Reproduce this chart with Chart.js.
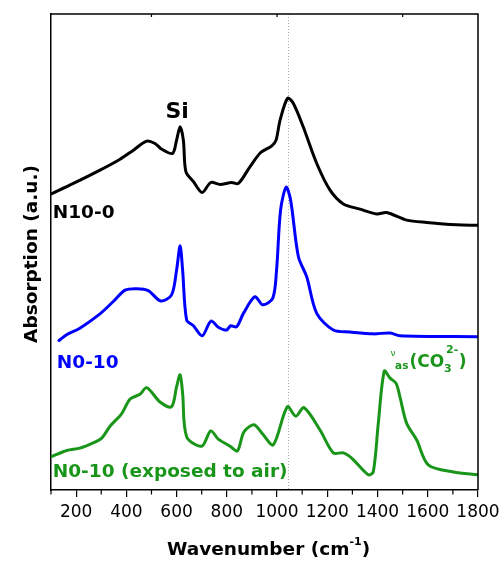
<!DOCTYPE html>
<html>
<head>
<meta charset="utf-8">
<script src="https://cdn.jsdelivr.net/npm/chart.js@4/dist/chart.umd.min.js"></script>
<style>
  html, body { margin: 0; padding: 0; background: #ffffff; }
  #c { display: block; }
</style>
</head>
<body>
<canvas id="c" width="501" height="561"></canvas>
<script>
// ---- data (wavenumber in cm^-1, absorption in arbitrary offset units) ----
const n100Wave = [101,189,295,375,428,481,514,541,584,600,614,627,637,667,702,736,773,819,846,892,935,979,996,1012,1042,1065,1104,1158,1211,1264,1330,1397,1436,1516,1596,1715,1799];
const n100Abs  = [62.2,64.4,67.2,69.5,71.4,73.3,72.8,71.6,70.7,73.5,76.3,73.5,66.9,64.8,62.5,64.6,64.2,64.6,64.4,67.9,70.9,72.3,73.5,77.7,82.3,81.2,76.3,68.6,63.0,60.1,59.0,58.0,58.3,56.7,56.2,55.7,55.6];

const n010Wave = [132,162,215,295,348,395,441,487,537,580,600,614,624,640,667,702,737,766,799,815,839,866,912,943,983,998,1014,1036,1054,1085,1118,1158,1224,1290,1383,1450,1489,1799];
const n010Abs  = [31.4,32.6,34.0,37.0,39.6,42.0,42.3,41.9,39.7,41.0,46.2,51.3,46.2,35.7,34.5,32.4,35.5,34.2,33.6,34.5,34.3,37.1,40.6,38.9,40.3,46.2,58.8,63.6,60.9,49.0,44.8,37.1,33.6,33.2,32.8,33.0,32.4,32.2];

const airWave = [101,163,215,268,302,335,381,415,454,481,534,580,600,614,624,640,700,736,766,813,842,868,908,945,985,1041,1075,1107,1171,1224,1264,1297,1363,1383,1403,1427,1450,1474,1489,1516,1556,1602,1702,1799];
const airAbs  = [7.0,8.3,8.8,9.9,10.9,13.4,16.0,19.1,20.1,21.5,18.5,17.5,21.7,24.2,20.3,11.2,9.2,12.4,10.7,9.2,8.2,12.2,13.7,11.6,9.5,17.5,15.5,17.3,12.6,7.8,7.8,6.7,3.2,3.8,14.0,25.0,23.5,22.4,19.6,14.0,10.5,5.3,3.8,3.2];

const seriesNames = ['N10-0', 'N0-10', 'N0-10 (exposed to air)'];
const xTickLabels = [200,400,600,800,1000,1200,1400,1600,1800];
const xMinorTicks = [100,300,500,700,900,1100,1300,1500,1700];
const xTopTicks   = [500,1000,1500];
const refLine = 1042;

const BLACK = '#000000', BLUE = '#0000ff', GREEN = 'rgb(25,150,25)';
const FONT = '"DejaVu Sans", "Liberation Sans", Arial, sans-serif';

function pts(xs, ys) { return xs.map((v, i) => ({ x: v, y: ys[i] })); }

const deco = {
  id: 'deco',
  beforeDatasetsDraw(chart) {
    const { ctx, chartArea: a, scales: { x } } = chart;
    ctx.save();
    ctx.strokeStyle = '#a8a8a8';
    ctx.lineWidth = 1;
    ctx.setLineDash([1, 2]);
    const px = Math.round(x.getPixelForValue(refLine)) + 0.5;
    ctx.beginPath(); ctx.moveTo(px, a.top); ctx.lineTo(px, a.bottom); ctx.stroke();
    ctx.restore();
  },
  afterDraw(chart) {
    const { ctx, chartArea: a, scales: { x, y } } = chart;
    ctx.save();
    // frame top and right
    ctx.strokeStyle = '#000'; ctx.lineWidth = 1.5;
    ctx.beginPath();
    ctx.moveTo(a.left, a.top); ctx.lineTo(a.right, a.top); ctx.lineTo(a.right, a.bottom);
    ctx.stroke();
    // minor bottom ticks
    ctx.lineWidth = 1.2;
    ctx.beginPath();
    xMinorTicks.forEach(v => {
      const px = x.getPixelForValue(v);
      ctx.moveTo(px, a.bottom); ctx.lineTo(px, a.bottom + 4.5);
    });
    // small inward top ticks
    xTopTicks.forEach(v => {
      const px = x.getPixelForValue(v);
      ctx.moveTo(px, a.top); ctx.lineTo(px, a.top + 3);
    });
    ctx.stroke();

    function txt(s, px, py, size, color, align, weight) {
      ctx.font = (weight || 'bold') + ' ' + size + 'px ' + FONT;
      ctx.fillStyle = color;
      ctx.textAlign = align || 'left';
      ctx.textBaseline = 'alphabetic';
      ctx.fillText(s, px, py);
      return ctx.measureText(s).width;
    }
    // annotations
    txt('Si', x.getPixelForValue(602), y.getPixelForValue(78.2), 22, BLACK, 'center');
    txt(seriesNames[0], x.getPixelForValue(107), y.getPixelForValue(57.1), 18.5, BLACK);
    txt(seriesNames[1], x.getPixelForValue(123), y.getPixelForValue(25.6), 18.5, BLUE);
    txt(seriesNames[2], x.getPixelForValue(107), y.getPixelForValue(2.8), 18.5, GREEN);

    // nu_as(CO3 2-)
    let cx = x.getPixelForValue(1452), cy = y.getPixelForValue(25.8);
    txt('\u03BD', cx, cy - 11, 9, GREEN, 'left', 'normal');
    cx += 4.5;
    cx += txt('as', cx, cy + 2, 10.5, GREEN);
    cx += 1;
    cx += txt('(CO', cx, cy, 17, GREEN);
    txt('3', cx, cy + 5, 11, GREEN);
    const w2 = txt('2-', cx + 2, cy - 14, 11, GREEN);
    cx += 2 + w2 + 0.5;
    txt(')', cx, cy, 17, GREEN);

    // axis titles
    ctx.font = 'bold 18.5px ' + FONT;
    const wMain = ctx.measureText('Wavenumber (cm').width;
    ctx.font = 'bold 11px ' + FONT;
    const wSup = ctx.measureText('-1').width;
    ctx.font = 'bold 18.5px ' + FONT;
    const wEnd = ctx.measureText(')').width;
    const total = wMain + wSup + wEnd;
    let tx = 268.5 - total / 2;
    const ty = 555;
    txt('Wavenumber (cm', tx, ty, 18.5, BLACK); tx += wMain;
    txt('-1', tx, ty - 10, 11, BLACK); tx += wSup;
    txt(')', tx, ty, 18.5, BLACK);

    ctx.save();
    ctx.translate(37, (a.top + a.bottom) / 2 + 2);
    ctx.rotate(-Math.PI / 2);
    txt('Absorption (a.u.)', 0, 0, 18.5, BLACK, 'center');
    ctx.restore();
    ctx.restore();
  }
};

new Chart(document.getElementById('c'), {
  type: 'line',
  data: {
    datasets: [
      { label: seriesNames[0], data: pts(n100Wave, n100Abs), borderColor: BLACK },
      { label: seriesNames[1], data: pts(n010Wave, n010Abs), borderColor: BLUE },
      { label: seriesNames[2], data: pts(airWave, airAbs), borderColor: GREEN }
    ]
  },
  options: {
    responsive: false,
    animation: false,
    devicePixelRatio: 1,
    layout: { padding: { top: 14, right: 23, left: 0, bottom: 0 } },
    elements: {
      point: { radius: 0 },
      line: { borderWidth: 3, tension: 0.3, borderJoinStyle: 'round', borderCapStyle: 'round', fill: false }
    },
    plugins: { legend: { display: false }, tooltip: { enabled: false } },
    scales: {
      x: {
        type: 'linear', min: 100, max: 1800,
        afterFit(s) { s.height = 71; s.paddingLeft = 0; s.paddingRight = 0; },
        border: { display: true, color: '#000', width: 1.5 },
        grid: {
          display: true, drawOnChartArea: false, drawTicks: true, tickLength: 7,
          lineWidth: 1.2,
          color: c => (c.tick && xTickLabels.includes(c.tick.value)) ? '#000' : 'rgba(0,0,0,0)'
        },
        ticks: {
          stepSize: 100, autoSkip: false, maxRotation: 0, padding: 5,
          color: '#000', font: { family: FONT, size: 17 },
          callback: v => xTickLabels.includes(v) ? String(v) : ''
        }
      },
      y: {
        type: 'linear', min: 0, max: 100,
        afterFit(s) { s.width = 51; s.paddingTop = 0; s.paddingBottom = 0; },
        border: { display: true, color: '#000', width: 1.5 },
        grid: { display: false },
        ticks: { display: false }
      }
    }
  },
  plugins: [deco]
});
</script>
</body>
</html>
